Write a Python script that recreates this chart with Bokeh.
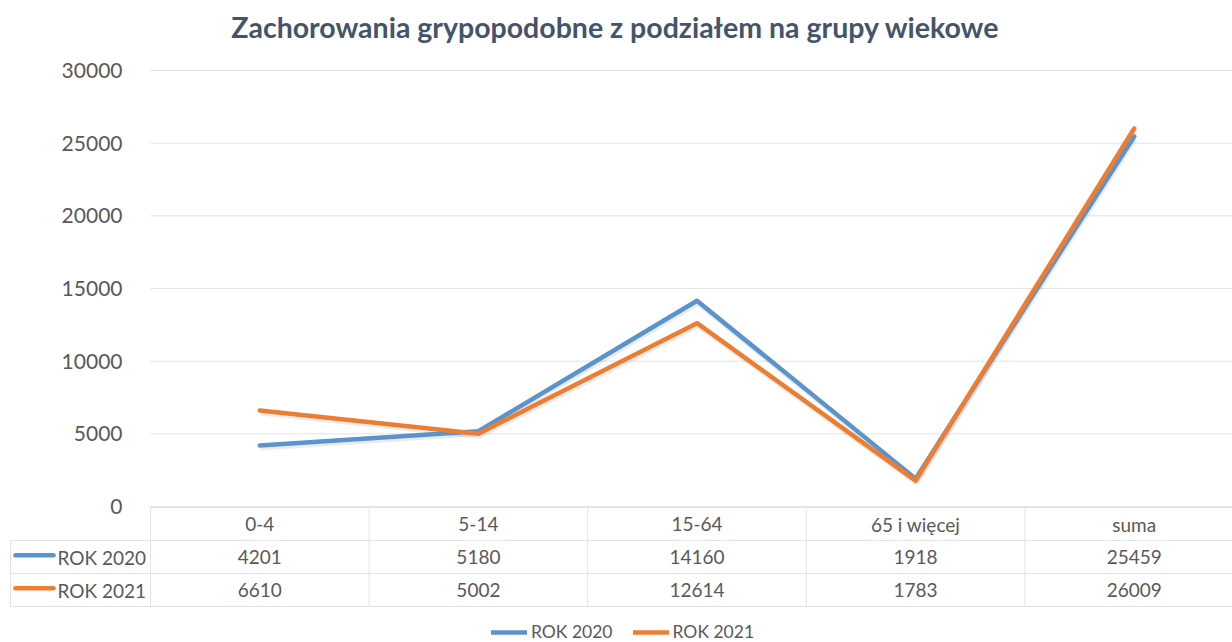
from bokeh.plotting import figure
from bokeh.models import Range1d, Legend, LegendItem, Label, ColumnDataSource
from bokeh.core.properties import value
from bokeh.embed import file_html
from bokeh.resources import INLINE

# ---- data ----
categories = ["0-4", "5-14", "15-64", "65 i więcej", "suma"]
rok_2020 = [4201, 5180, 14160, 1918, 25459]
rok_2021 = [6610, 5002, 12614, 1783, 26009]
series_names = ["ROK 2020", "ROK 2021"]
y_ticks = [0, 5000, 10000, 15000, 20000, 25000, 30000]
title_text = "Zachorowania grypopodobne z podziałem na grupy wiekowe"

# ---- style / layout constants ----
W, H = 1232, 642
FONT = "Lato"
BLUE = "#5b93cc"
ORANGE = "#ed7d31"
GRID = "#e3e3e3"
TXT = "#595959"
col_px = 218.6          # width of one category column in px
left_px = 150           # left edge of first column in px
top_px = 70             # pixel of 30000
zero_px = 506           # pixel of 0
row_px = 33             # table row height
head_left_px = 10       # left edge of table row headers

units_per_px = 30000 / (zero_px - top_px)
x_start = -left_px / col_px
x_end = (W - left_px) / col_px
y_end = 30000 + top_px * units_per_px
y_start = -(H - zero_px) * units_per_px

p = figure(width=W, height=H, output_backend="svg", toolbar_location=None,
           x_range=Range1d(x_start, x_end), y_range=Range1d(y_start, y_end),
           min_border=0, min_border_left=0, min_border_right=0,
           min_border_top=0, min_border_bottom=0)
p.outline_line_color = None
p.xaxis.visible = False
p.xgrid.visible = False
p.ygrid.visible = False
p.background_fill_color = "white"
p.border_fill_color = "white"

# table coordinate system: rows grow downward, 0 = top of table
p.extra_y_ranges = {"table": Range1d(start=(H - zero_px - 1) / row_px,
                                     end=-(zero_px + 1) / row_px)}

# y axis at left edge of first column
yax = p.yaxis[0]
yax.fixed_location = 0
yax.ticker = y_ticks
yax.axis_line_color = None
yax.major_tick_line_color = None
yax.minor_tick_line_color = None
yax.major_tick_out = 0
yax.major_label_standoff = 28
yax.major_label_text_font = FONT
yax.major_label_text_font_size = "21px"
yax.major_label_text_color = TXT

ncat = len(categories)
xs = [i + 0.5 for i in range(ncat)]

# horizontal gridlines
p.segment(x0=[0] * len(y_ticks), x1=[ncat + 1] * len(y_ticks), y0=y_ticks, y1=y_ticks,
          line_color=GRID, line_width=1)

# shadows
off = 2.5 * units_per_px
p.line([x + 0.004 for x in xs], [v - off for v in rok_2020], line_color="#000000",
       line_alpha=0.08, line_width=5)
p.line([x + 0.004 for x in xs], [v - off for v in rok_2021], line_color="#000000",
       line_alpha=0.08, line_width=5)

r20 = p.line(xs, rok_2020, line_color=BLUE, line_width=4.5, line_join="round", line_cap="round")
r21 = p.line(xs, rok_2021, line_color=ORANGE, line_width=4.5, line_join="round", line_cap="round")

# ---- data table ----
head_left = (head_left_px - left_px) / col_px
# horizontal borders
p.segment(x0=[0], x1=[ncat + 1], y0=[0], y1=[0], line_color=GRID, y_range_name="table")
p.segment(x0=[head_left] * 3, x1=[ncat + 1] * 3, y0=[1, 2, 3], y1=[1, 2, 3],
          line_color=GRID, y_range_name="table")
# vertical borders
p.segment(x0=list(range(ncat + 1)), x1=list(range(ncat + 1)), y0=[0] * (ncat + 1),
          y1=[3] * (ncat + 1), line_color=GRID, y_range_name="table")
p.segment(x0=[head_left], x1=[head_left], y0=[1], y1=[3], line_color=GRID,
          y_range_name="table")

tsrc = ColumnDataSource(dict(
    x=xs * 3,
    y=[0.5] * ncat + [1.5] * ncat + [2.5] * ncat,
    t=categories + [str(v) for v in rok_2020] + [str(v) for v in rok_2021],
))
p.text(x="x", y="y", text="t", source=tsrc, y_range_name="table",
       text_font=value(FONT), text_font_size="19px", text_color=TXT,
       text_align="center", text_baseline="middle")

# row headers with legend keys
key_x0 = head_left + 5 / col_px
key_x1 = head_left + 43 / col_px
p.segment(x0=[key_x0] * 2, x1=[key_x1] * 2, y0=[1.45, 2.45], y1=[1.45, 2.45],
          line_color=[BLUE, ORANGE], line_width=4.5, line_cap="round", y_range_name="table")
p.text(x=[key_x1 + 4 / col_px] * 2, y=[1.5, 2.5], text=series_names, y_range_name="table",
       text_font=value(FONT), text_font_size="19px", text_color=TXT,
       text_align="left", text_baseline="middle")

# title
p.add_layout(Label(x=(233 + 997) / 2 / col_px + x_start, y=y_end - 26 * units_per_px,
                   text=title_text,
                   text_font=FONT, text_font_size="28.5px", text_font_style="bold",
                   text_color="#44546a", text_align="center", text_baseline="middle"))

# bottom legend
legend = Legend(items=[LegendItem(label=series_names[0], renderers=[r20]),
                       LegendItem(label=series_names[1], renderers=[r21])],
                orientation="horizontal", location=(491, 0),
                label_text_font=FONT, label_text_font_size="17.5px", label_text_color=TXT,
                glyph_width=36, glyph_height=16, label_standoff=4, spacing=20,
                padding=2, margin=0, border_line_color=None, background_fill_alpha=0)
p.add_layout(legend)

open("out.html", "w").write(file_html(p, INLINE))
